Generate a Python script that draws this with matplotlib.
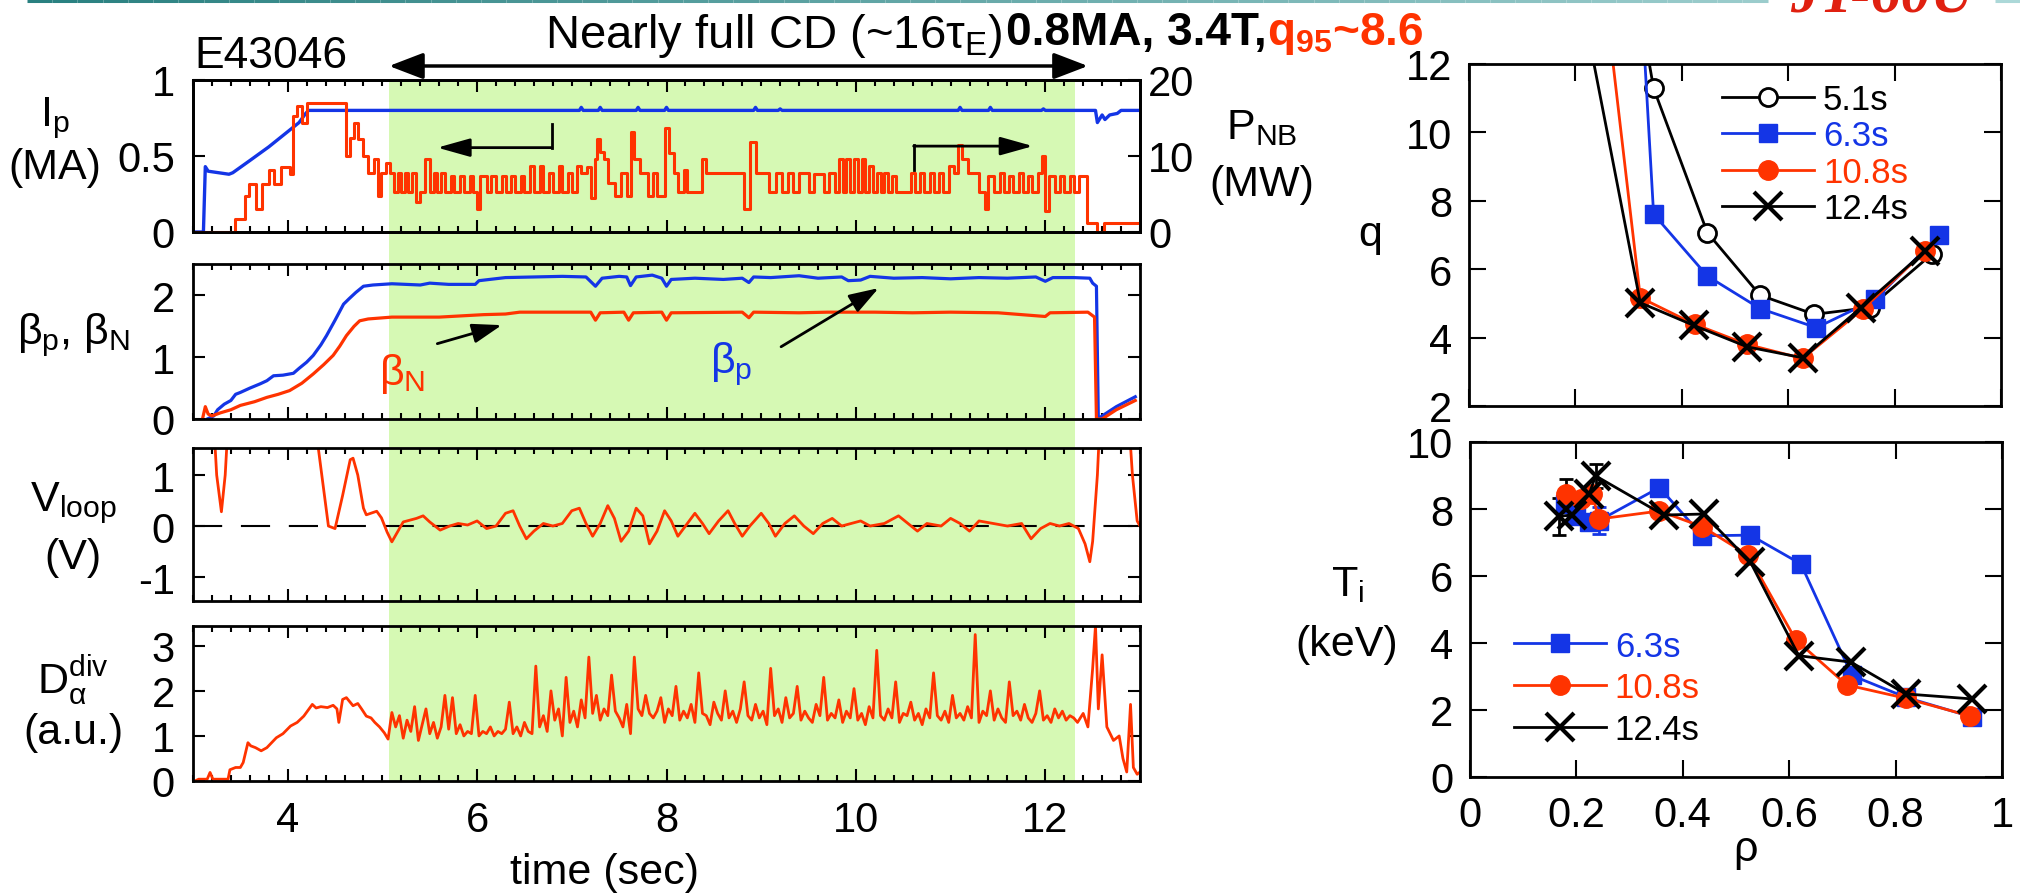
import numpy as np
import matplotlib
matplotlib.use("Agg")
import matplotlib.pyplot as plt
import matplotlib.transforms as mtrans
from matplotlib.patches import Rectangle
from matplotlib.collections import LineCollection
from matplotlib.ticker import MultipleLocator, FuncFormatter

plt.rcParams['font.family'] = ['Liberation Sans', 'DejaVu Sans']
plt.rcParams['mathtext.fontset'] = 'custom'
plt.rcParams['mathtext.rm'] = 'Liberation Sans'
plt.rcParams['mathtext.it'] = 'Liberation Sans'
plt.rcParams['mathtext.bf'] = 'Liberation Sans:bold'
plt.rcParams['mathtext.sf'] = 'Liberation Sans'
plt.rcParams['axes.linewidth'] = 2.0

BLUE = '#1435e6'
RED = '#ff3300'
GREEN = '#d6f9b4'

# ---------------- time traces (shot E43046) ----------------
ip_t = [3.00, 3.11, 3.13, 3.16, 3.38, 3.42, 3.60, 3.80, 4.00, 4.12, 4.19, 4.22, 7.08, 7.10, 7.12,
        7.28, 7.30, 7.32, 7.68, 7.70, 7.72, 7.98, 8.00, 8.02, 8.92, 8.94, 8.96, 9.18, 9.20, 9.22,
        11.08, 11.10, 11.12, 11.40, 11.42, 11.44, 11.96, 11.98, 12.00, 12.53, 12.55, 12.60, 12.63,
        12.68, 12.76, 12.80, 13.00]
ip_v = [0.0, 0.0, 0.43, 0.40, 0.38, 0.39, 0.47, 0.56, 0.66, 0.72, 0.78, 0.80, 0.80, 0.82, 0.80,
        0.80, 0.82, 0.80, 0.80, 0.82, 0.80, 0.80, 0.82, 0.80, 0.80, 0.82, 0.80, 0.80, 0.81, 0.80,
        0.80, 0.82, 0.80, 0.80, 0.82, 0.80, 0.80, 0.81, 0.80, 0.80, 0.72, 0.77, 0.74,
        0.77, 0.78, 0.80, 0.80]

pnb_t = [3.00, 3.44, 3.55, 3.59, 3.67, 3.73, 3.80, 3.86, 3.93, 4.02, 4.06, 4.10, 4.15, 4.20, 4.62,
         4.66, 4.70, 4.74, 4.80, 4.85, 4.91, 4.95, 4.98, 5.04, 5.08, 5.12, 5.16, 5.20, 5.24, 5.27,
         5.31, 5.36, 5.40, 5.45, 5.50, 5.55, 5.58, 5.62, 5.66, 5.72, 5.76, 5.82, 5.86, 5.92, 5.96,
         6.00, 6.03, 6.10, 6.15, 6.20, 6.26, 6.30, 6.36, 6.40, 6.46, 6.50, 6.56, 6.60, 6.66, 6.70,
         6.76, 6.80, 6.86, 6.90, 6.96, 7.00, 7.06, 7.10, 7.16, 7.20, 7.24, 7.27, 7.30, 7.34, 7.38,
         7.46, 7.52, 7.58, 7.62, 7.66, 7.72, 7.80, 7.86, 7.90, 7.98, 8.03, 8.08, 8.12, 8.18, 8.22,
         8.38, 8.42, 8.82, 8.88, 8.94, 9.08, 9.16, 9.22, 9.28, 9.34, 9.40, 9.50, 9.56, 9.66, 9.72,
         9.78, 9.82, 9.86, 9.90, 9.94, 9.98, 10.02, 10.06, 10.10, 10.14, 10.18, 10.22, 10.26, 10.30,
         10.34, 10.38, 10.42, 10.58, 10.62, 10.68, 10.72, 10.78, 10.82, 10.88, 10.92, 10.98, 11.04,
         11.08, 11.12, 11.18, 11.30, 11.36, 11.40, 11.46, 11.52, 11.56, 11.62, 11.66, 11.72, 11.76,
         11.82, 11.86, 11.92, 11.96, 12.00, 12.04, 12.10, 12.16, 12.20, 12.26, 12.30, 12.36, 12.44,
         12.55, 12.62, 13.00]
pnb_v = [0.0, 1.7, 4.7, 6.3, 3.0, 6.3, 8.2, 6.3, 8.5, 7.6, 15.3, 16.6, 14.4, 17.0, 10.0,
         12.4, 14.4, 12.2, 10.0, 7.8, 9.6, 4.7, 7.8, 9.1, 7.8, 5.2, 7.8, 5.2, 7.8, 5.2,
         7.8, 4.0, 5.2, 9.6, 5.2, 7.8, 5.2, 7.8, 5.2, 7.4, 5.2, 7.4, 5.2, 7.4, 5.2,
         3.0, 7.4, 5.2, 7.4, 5.2, 7.4, 5.2, 7.4, 5.2, 7.4, 5.2, 8.7, 5.2, 8.7, 5.2,
         7.8, 5.2, 8.7, 5.2, 7.8, 5.2, 8.7, 7.8, 8.5, 4.5, 9.6, 12.2, 10.5, 9.6, 6.5,
         4.7, 7.8, 4.7, 13.1, 9.6, 7.8, 4.7, 7.8, 4.7, 13.7, 10.4, 7.8, 5.2, 8.2, 5.2,
         9.6, 7.8, 3.0, 11.8, 7.8, 5.2, 7.8, 5.2, 7.8, 5.2, 7.8, 5.2, 7.6, 5.2, 7.8,
         5.2, 9.6, 5.2, 9.6, 5.2, 9.6, 5.2, 9.6, 5.2, 8.7, 5.2, 7.8, 5.2, 7.8,
         5.2, 7.4, 5.2, 7.8, 5.2, 7.8, 5.2, 7.8, 5.2, 7.8, 5.2, 8.7, 7.8,
         11.4, 9.6, 7.8, 5.2, 3.0, 7.4, 5.2, 7.8, 5.2, 7.4, 5.2, 7.8, 5.2,
         7.4, 5.2, 7.8, 10.0, 2.8, 7.4, 5.2, 7.4, 5.2, 7.4, 5.2, 7.4, 1.2,
         0.0, 1.2, 1.2]

betap_t = [3.15, 3.22, 3.26, 3.33, 3.40, 3.45, 3.50, 3.60, 3.71, 3.78, 3.85, 3.95, 4.06, 4.12, 4.20,
           4.27, 4.35, 4.41, 4.50, 4.59, 4.65, 4.72, 4.80, 4.90, 5.10, 5.40, 5.50, 5.70, 5.98, 6.02,
           6.30, 6.60, 6.90, 7.15, 7.25, 7.32, 7.50, 7.58, 7.62, 7.68, 7.85, 7.95, 8.00, 8.05, 8.30,
           8.60, 8.80, 8.87, 8.92, 9.10, 9.40, 9.60, 9.85, 9.92, 10.05, 10.15, 10.40, 10.70, 11.00,
           11.30, 11.60, 11.90, 12.00, 12.08, 12.30, 12.47, 12.50, 12.54, 12.56, 12.60, 12.75, 12.95]
betap_v = [0.0, 0.05, 0.15, 0.24, 0.30, 0.40, 0.43, 0.50, 0.57, 0.62, 0.70, 0.71, 0.74, 0.82, 0.92,
           1.03, 1.20, 1.35, 1.60, 1.86, 1.95, 2.05, 2.15, 2.17, 2.19, 2.17, 2.20, 2.18, 2.18, 2.24,
           2.29, 2.30, 2.31, 2.30, 2.15, 2.28, 2.31, 2.30, 2.16, 2.30, 2.33, 2.28, 2.15, 2.26, 2.28,
           2.26, 2.28, 2.21, 2.30, 2.29, 2.32, 2.28, 2.30, 2.24, 2.25, 2.31, 2.28, 2.29, 2.27,
           2.29, 2.28, 2.30, 2.23, 2.29, 2.29, 2.28, 2.20, 2.15, 0.0, 0.05, 0.20, 0.36]

betan_t = [3.10, 3.13, 3.16, 3.20, 3.29, 3.40, 3.50, 3.65, 3.78, 3.90, 4.02, 4.15, 4.27, 4.38, 4.48,
           4.55, 4.62, 4.70, 4.76, 4.85, 5.10, 5.60, 6.07, 6.30, 6.45, 7.20, 7.25, 7.30, 7.55, 7.60,
           7.65, 7.95, 8.00, 8.05, 8.80, 8.87, 8.92, 9.40, 9.70, 10.20, 10.60, 11.00, 11.50, 12.00,
           12.05, 12.45, 12.52, 12.54, 12.60, 12.75, 12.95]
betan_v = [0.0, 0.20, 0.08, 0.05, 0.10, 0.15, 0.22, 0.28, 0.35, 0.40, 0.46, 0.58, 0.73, 0.88, 1.03,
           1.18, 1.35, 1.50, 1.59, 1.62, 1.65, 1.65, 1.69, 1.70, 1.73, 1.73, 1.60, 1.72, 1.73, 1.60,
           1.72, 1.73, 1.60, 1.72, 1.73, 1.64, 1.73, 1.72, 1.73, 1.73, 1.72, 1.73, 1.72, 1.66,
           1.72, 1.73, 1.65, 0.0, 0.0, 0.15, 0.30]

vloop_t = [3.00, 3.02, 3.22, 3.25, 3.30, 3.34, 3.37, 3.60, 4.20, 4.29, 4.43, 4.50, 4.58, 4.66, 4.69,
           4.74, 4.80, 4.83, 4.94, 4.99, 5.05, 5.10, 5.22, 5.36, 5.43, 5.50, 5.61, 5.71, 5.80, 5.90,
           6.00, 6.10, 6.20, 6.30, 6.38, 6.45, 6.52, 6.60, 6.70, 6.80, 6.90, 7.00, 7.08, 7.15, 7.22,
           7.30, 7.38, 7.45, 7.52, 7.60, 7.68, 7.75, 7.82, 7.90, 7.98, 8.05, 8.12, 8.20, 8.30, 8.38,
           8.45, 8.55, 8.65, 8.72, 8.80, 8.88, 9.00, 9.08, 9.15, 9.25, 9.35, 9.45, 9.55, 9.65, 9.75,
           9.85, 9.95, 10.05, 10.15, 10.30, 10.45, 10.55, 10.65, 10.75, 10.90, 11.00, 11.10, 11.20,
           11.30, 11.45, 11.60, 11.75, 11.85, 11.95, 12.05, 12.15, 12.25, 12.35, 12.42, 12.47, 12.50,
           12.55, 12.60, 12.85, 12.92, 12.97, 13.00]
vloop_v = [3.0, 3.0, 2.0, 1.0, 0.28, 1.0, 2.0, 3.0, 3.0, 2.0, 0.0, -0.05, 0.6, 1.30, 1.33,
           1.0, 0.35, 0.22, 0.29, 0.16, -0.12, -0.31, 0.08, 0.15, 0.20, 0.08, -0.08, 0.0, 0.05, 0.02,
           0.10, -0.05, 0.0, 0.25, 0.30, 0.0, -0.25, -0.10, 0.05, 0.0, 0.05, 0.30, 0.35, 0.05, -0.20,
           0.05, 0.40, 0.15, -0.30, -0.10, 0.35, 0.20, -0.35, -0.10, 0.30, 0.10, -0.20, 0.0, 0.25, 0.05,
           -0.15, 0.10, 0.30, 0.05, -0.20, 0.0, 0.25, 0.05, -0.20, 0.05, 0.20, 0.0, -0.15, 0.05, 0.15,
           0.0, 0.05, 0.10, 0.0, 0.05, 0.20, 0.05, -0.10, 0.05, 0.0, 0.15, 0.05, -0.10,
           0.10, 0.05, 0.0, 0.05, -0.25, -0.05, 0.05, 0.0, 0.05, -0.05, -0.35, -0.70, -0.30,
           1.0, 3.0, 3.0, 1.0, 0.1, 0.0]

da_t_start = [3.02, 3.06, 3.15, 3.18, 3.21, 3.30, 3.37, 3.39, 3.45, 3.50, 3.53, 3.58, 3.61, 3.66,
              3.72, 3.78, 3.88, 3.95, 4.03, 4.10, 4.17, 4.26, 4.30, 4.35, 4.42, 4.48, 4.52, 4.54,
              4.58, 4.62, 4.69, 4.74, 4.78, 4.83, 4.88, 4.92, 4.97, 5.02, 5.06]
da_v_start = [0.00, 0.04, 0.04, 0.19, 0.04, 0.04, 0.04, 0.25, 0.30, 0.30, 0.41, 0.85, 0.78, 0.74,
              0.67, 0.74, 0.96, 1.05, 1.22, 1.30, 1.44, 1.70, 1.62, 1.65, 1.63, 1.68, 1.60, 1.30,
              1.81, 1.85, 1.67, 1.72, 1.60, 1.44, 1.40, 1.30, 1.20, 1.07, 0.93]
# flat-top samples, every 40 ms from 5.10 s to 12.30 s
da_v_flat = [1.52, 1.20, 1.45, 0.95, 1.35, 1.10, 1.65, 0.90, 1.25, 1.60,
             1.05, 1.30, 0.95, 1.20, 1.90, 1.15, 1.85, 1.05, 1.25, 1.00,
             1.10, 1.05, 1.90, 1.00, 1.10, 1.05, 1.20, 1.00, 1.10, 1.05,
             1.15, 1.75, 1.05, 1.20, 1.00, 1.30, 1.10, 1.05, 2.55, 1.20,
             1.45, 1.10, 2.00, 1.35, 1.60, 1.00, 2.30, 1.30, 1.55, 1.20,
             1.80, 1.40, 2.75, 1.50, 1.90, 1.35, 1.60, 1.45, 2.35, 1.55,
             1.40, 1.20, 1.70, 1.05, 2.75, 1.60, 1.45, 1.90, 1.50, 1.40,
             1.55, 1.85, 1.30, 1.60, 1.45, 2.10, 1.35, 1.55, 1.40, 1.70,
             1.30, 2.40, 1.50, 1.45, 1.25, 1.75, 1.50, 1.35, 2.00, 1.40,
             1.55, 1.30, 1.60, 2.20, 1.45, 1.35, 1.70, 1.40, 1.55, 1.25,
             2.50, 1.45, 1.60, 1.30, 1.85, 1.40, 1.50, 2.10, 1.35, 1.55,
             1.40, 1.30, 1.70, 1.45, 2.30, 1.35, 1.50, 1.40, 1.80, 1.30,
             1.55, 1.40, 2.05, 1.35, 1.50, 1.25, 1.65, 1.40, 2.90, 1.45,
             1.35, 1.60, 1.40, 2.20, 1.30, 1.50, 1.45, 1.75, 1.35, 1.50,
             1.25, 1.60, 1.40, 2.40, 1.45, 1.35, 1.55, 1.30, 1.90, 1.40,
             1.50, 1.35, 1.65, 1.40, 3.25, 1.30, 1.55, 1.45, 2.00, 1.35,
             1.60, 1.40, 1.30, 2.20, 1.45, 1.55, 1.35, 1.70, 1.40, 1.30,
             1.50, 2.00, 1.35, 1.45, 1.30, 1.60, 1.40, 1.55, 1.35, 1.45,
             1.40]
da_t_end = [12.34, 12.40, 12.45, 12.50, 12.53, 12.56, 12.60, 12.65, 12.72, 12.78, 12.82, 12.86,
            12.90, 12.93, 12.97, 13.00]
da_v_end = [1.30, 1.50, 1.20, 2.50, 3.45, 1.60, 2.80, 1.20, 0.90, 1.00, 0.50, 0.20,
            1.70, 0.30, 0.15, 0.20]

cd_start, cd_end = 5.07, 12.31

# ---------------- q profiles ----------------
q_times = ['5.1s', '6.3s', '10.8s', '12.4s']
q51_rho = [0.25, 0.347, 0.448, 0.547, 0.649, 0.753, 0.870]
q51 = [20.0, 11.29, 7.07, 5.24, 4.68, 4.88, 6.44]
q63_rho = [0.25, 0.347, 0.448, 0.547, 0.653, 0.764, 0.884]
q63 = [34.0, 7.61, 5.80, 4.85, 4.29, 5.12, 7.00]
q108_rho = [0.22, 0.322, 0.424, 0.523, 0.627, 0.740, 0.858]
q108 = [18.8, 5.17, 4.39, 3.80, 3.39, 4.83, 6.54]
q124_rho = [0.20, 0.322, 0.422, 0.523, 0.627, 0.737, 0.858]
q124 = [14.8, 5.02, 4.36, 3.73, 3.41, 4.88, 6.54]

# ---------------- Ti profiles ----------------
nan = np.nan
ti63_rho = [0.179, 0.200, 0.224, 0.242, 0.356, 0.437, 0.527, 0.622, 0.718, 0.819, 0.944]
ti63 = [8.15, 7.80, 7.60, 7.65, 8.64, 7.20, 7.22, 6.36, 3.03, 2.38, 1.79]
ti63_err = [nan, nan, nan, 0.40, nan, nan, nan, nan, nan, nan, nan]
ti108_rho = [0.181, 0.208, 0.230, 0.242, 0.356, 0.437, 0.523, 0.612, 0.708, 0.819, 0.940]
ti108 = [8.44, 8.29, 8.44, 7.70, 7.94, 7.47, 6.62, 4.10, 2.75, 2.35, 1.82]
ti108_err = [0.45, nan, nan, nan, nan, nan, nan, nan, nan, nan, nan]
ti124_rho = [0.167, 0.191, 0.224, 0.236, 0.364, 0.439, 0.527, 0.618, 0.716, 0.819, 0.944]
ti124 = [7.78, 7.82, 8.44, 8.99, 7.82, 7.85, 6.42, 3.62, 3.43, 2.48, 2.33]
ti124_err = [0.55, nan, nan, 0.35, nan, nan, nan, nan, nan, nan, nan]

# ================= figure =================
W, H = 2020, 895
fig = plt.figure(figsize=(W / 100, H / 100), dpi=100)


def box(x0, y0, x1, y1):
    return [x0 / W, 1 - y1 / H, (x1 - x0) / W, (y1 - y0) / H]


def fxy(x, y):
    return x / W, 1 - y / H


TICK_FS = 30
LAB_FS = 31
fmt = FuncFormatter(lambda v, p: f'{v:g}')

TL = 193
TR = 1140
ax1 = fig.add_axes(box(TL, 81, TR, 233))
ax2 = fig.add_axes(box(TL, 265, TR, 420), sharex=ax1)
ax3 = fig.add_axes(box(TL, 449, TR, 602), sharex=ax1)
ax4 = fig.add_axes(box(TL, 627, TR, 782), sharex=ax1)
time_axes = [ax1, ax2, ax3, ax4]

for ax in time_axes:
    ax.set_facecolor('none')
    ax.set_xlim(3, 13)
    ax.xaxis.set_major_locator(MultipleLocator(2))
    ax.xaxis.set_minor_locator(MultipleLocator(0.2))
    ax.xaxis.set_major_formatter(fmt)
    ax.yaxis.set_major_formatter(fmt)
    ax.tick_params(which='both', direction='in', top=True, right=True, labelsize=TICK_FS, width=1.5)
    ax.tick_params(which='major', length=8.6, pad=13)
    ax.tick_params(which='minor', length=4.3)
    for s in ax.spines.values():
        s.set_linewidth(2.0)
for ax in [ax1, ax2, ax3]:
    ax.tick_params(labelbottom=False)
ax4.tick_params(axis='x', pad=14)

# shaded current-drive window (spans all four time panels)
trans = mtrans.blended_transform_factory(ax4.transData, fig.transFigure)
rect = Rectangle((cd_start, 1 - 782 / H), cd_end - cd_start, (782 - 81) / H,
                 transform=trans, facecolor=GREEN, edgecolor='none', zorder=-10)
fig.add_artist(rect)

# panel 1: Ip and P_NB
ax1.plot(ip_t, ip_v, color=BLUE, lw=2.4, zorder=3)
ax1.set_ylim(0, 1)
ax1.set_yticks([0, 0.5, 1])
ax1r = ax1.twinx()
ax1r.set_position(box(TL, 81, TR, 233))
ax1r.step(pnb_t, pnb_v, where='post', color=RED, lw=2.2)
ax1r.set_ylim(0, 20)
ax1r.set_yticks([0, 10, 20])
ax1r.yaxis.set_major_formatter(fmt)
ax1r.tick_params(axis='y', direction='in', length=8.6, width=1.5, labelsize=TICK_FS, pad=6)
for s in ax1r.spines.values():
    s.set_linewidth(2.0)
ax1.tick_params(which='both', right=False)

ax1.plot([6.79, 6.79], [0.71, 0.555], color='k', lw=2)
ax1.annotate('', xy=(5.58, 0.555), xytext=(6.79, 0.555),
             arrowprops=dict(arrowstyle='-|>,head_length=1.0,head_width=0.28', mutation_scale=20,
                             lw=2, color='k', shrinkA=0, shrinkB=0))
ax1r.plot([10.61, 10.61], [8.2, 11.5], color='k', lw=2)
ax1r.annotate('', xy=(11.87, 11.3), xytext=(10.61, 11.3),
              arrowprops=dict(arrowstyle='-|>,head_length=1.0,head_width=0.28', mutation_scale=20,
                              lw=2, color='k', shrinkA=0, shrinkB=0))

# panel 2: beta_p, beta_N
ax2.plot(betap_t, betap_v, color=BLUE, lw=2.3)
ax2.plot(betan_t, betan_v, color=RED, lw=2.3)
ax2.set_ylim(0, 2.51)
ax2.set_yticks([0, 1, 2])
ax2.text(4.96, 0.74, r'$\beta_{\rm N}$', color=RED, fontsize=LAB_FS, ha='left', va='center')
ax2.text(8.46, 0.90, r'$\beta_{\rm p}$', color=BLUE, fontsize=LAB_FS, ha='left', va='center')
ax2.annotate('', xy=(6.26, 1.52), xytext=(5.58, 1.22),
             arrowprops=dict(arrowstyle='-|>,head_length=0.9,head_width=0.3', mutation_scale=20,
                             lw=2, color='k', shrinkA=0, shrinkB=0))
ax2.annotate('', xy=(10.24, 2.12), xytext=(9.21, 1.17),
             arrowprops=dict(arrowstyle='-|>,head_length=0.9,head_width=0.3', mutation_scale=20,
                             lw=2, color='k', shrinkA=0, shrinkB=0))

# panel 3: loop voltage
ax3.axhline(0, color='k', lw=1.5, dashes=(14, 9))
ax3.plot(vloop_t, vloop_v, color=RED, lw=2.0)
ax3.set_ylim(-1.47, 1.53)
ax3.set_yticks([-1, 0, 1])

# panel 4: D-alpha
da_t = np.concatenate([da_t_start, np.linspace(5.10, 12.30, len(da_v_flat)), da_t_end])
da_v = np.concatenate([da_v_start, da_v_flat, da_v_end])
ax4.plot(da_t, da_v, color=RED, lw=2.0)
ax4.set_ylim(0, 3.44)
ax4.set_yticks([0, 1, 2, 3])

# ---------------- right panels ----------------
axq = fig.add_axes(box(1469, 65, 2001, 407))
axt = fig.add_axes(box(1470, 443, 2002, 778))
for ax in [axq, axt]:
    ax.set_xlim(0, 1)
    ax.set_xticks([0, 0.2, 0.4, 0.6, 0.8, 1.0])
    ax.xaxis.set_major_formatter(fmt)
    ax.yaxis.set_major_formatter(fmt)
    ax.tick_params(direction='in', top=True, right=True, length=12, width=1.5,
                   labelsize=TICK_FS, pad=12)
    for s in ax.spines.values():
        s.set_linewidth(2.0)
axq.tick_params(labelbottom=False)
axq.set_ylim(2, 12)
axq.set_yticks([2, 4, 6, 8, 10, 12])
axt.set_ylim(0, 10)
axt.set_yticks([0, 2, 4, 6, 8, 10])
axt.tick_params(axis='x', pad=13)

axq.plot(q51_rho, q51, '-o', color='k', mfc='white', mec='k', ms=13, mew=2, lw=2, label=q_times[0])
axq.plot(q63_rho, q63, '-s', color=BLUE, ms=13, lw=2, label=q_times[1])
axq.plot(q108_rho, q108, '-o', color=RED, ms=14, lw=2, label=q_times[2])
axq.plot(q124_rho, q124, '-x', color='k', ms=20, mew=3, lw=2, label=q_times[3])
legq = axq.legend(loc='upper left', bbox_to_anchor=(0.476, 0.945), frameon=False, fontsize=25,
                  handlelength=2.65, handletextpad=0.25, labelspacing=0.1, borderpad=0,
                  borderaxespad=0, numpoints=1)
for txt, c in zip(legq.get_texts(), ['k', BLUE, RED, 'k']):
    txt.set_color(c)

axt.errorbar(ti63_rho, ti63, yerr=ti63_err, fmt='none', ecolor=BLUE, elinewidth=2, capsize=5, capthick=2)
axt.errorbar(ti108_rho, ti108, yerr=ti108_err, fmt='none', ecolor='k', elinewidth=2, capsize=5, capthick=2)
axt.errorbar(ti124_rho, ti124, yerr=ti124_err, fmt='none', ecolor='k', elinewidth=2, capsize=5, capthick=2)
axt.plot(ti63_rho, ti63, '-s', color=BLUE, ms=13, lw=2, label=q_times[1])
axt.plot(ti108_rho, ti108, '-o', color=RED, ms=14, lw=2, label=q_times[2])
axt.plot(ti124_rho, ti124, '-x', color='k', ms=20, mew=3, lw=2, label=q_times[3])
legt = axt.legend(loc='upper left', bbox_to_anchor=(0.083, 0.44), frameon=False, fontsize=25,
                  handlelength=2.65, handletextpad=0.25, labelspacing=0.25, borderpad=0,
                  borderaxespad=0, numpoints=1)
for txt, c in zip(legt.get_texts(), [BLUE, RED, 'k']):
    txt.set_color(c)

# ---------------- labels ----------------
def ftext(x, y, s, **kw):
    kw.setdefault('fontsize', LAB_FS)
    kw.setdefault('ha', 'center')
    kw.setdefault('va', 'center')
    return fig.text(*fxy(x, y), s, **kw)


ftext(55, 118, r'I$_{\rm p}$')
ftext(55, 168, '(MA)')
ftext(1262, 128, r'P$_{\rm NB}$')
ftext(1262, 185, '(MW)')
ftext(73, 335, r'$\beta_{\rm p}$, $\beta_{\rm N}$')
ftext(73, 503, r'V$_{\rm loop}$')
ftext(73, 558, '(V)')
ftext(73, 680, r'D$_{\alpha}^{\rm div}$')
ftext(73, 733, '(a.u.)')
ftext(605, 873, 'time (sec)')
ftext(1370, 235, 'q')
ftext(1348, 585, r'T$_{\rm i}$')
ftext(1347, 645, '(keV)')
ftext(1745, 852, r'$\rho$')

fig.text(*fxy(194, 68), 'E43046', fontsize=32, va='baseline', ha='left')

# header: three pieces chained left to right
renderer = fig.canvas.get_renderer()
h1 = fig.text(*fxy(545, 48), r'Nearly full CD (~16$\tau_{\rm E}$)', fontsize=34,
              va='baseline', ha='left')
x_next = h1.get_window_extent(renderer).x1 / fig.bbox.width
h2 = fig.text(x_next + 4 / W, 1 - 45 / H, '0.8MA, 3.4T,', fontsize=33, fontweight='bold',
              va='baseline', ha='left')
x_next = h2.get_window_extent(renderer).x1 / fig.bbox.width
fig.text(x_next, 1 - 45 / H, r'q$_{\mathbf{95}}$~8.6', fontsize=33, fontweight='bold', color=RED,
         va='baseline', ha='left')

# header double arrow over the current-drive window
htrans = mtrans.blended_transform_factory(ax1.transData, fig.transFigure)
ax1.annotate('', xy=(12.45, 1 - 67 / H), xytext=(cd_start, 1 - 67 / H),
             xycoords=htrans, textcoords=htrans, annotation_clip=False,
             arrowprops=dict(arrowstyle='<|-|>,head_length=0.6,head_width=0.23', mutation_scale=35,
                             lw=2.5, color='k', shrinkA=0, shrinkB=0))

# JT-60U logo (clipped at top) and teal rule
fig.text(*fxy(1790, 12), 'JT-60U', fontsize=43, fontstyle='italic', fontweight='bold',
         family=['Liberation Serif', 'DejaVu Serif'], color='#e02010', va='baseline', ha='left')
xs = np.linspace(27, 2020, 80)
segs, cols = [], []
c0 = np.array([0.16, 0.50, 0.50])
c1 = np.array([0.68, 0.85, 0.85])
for a, b in zip(xs[:-1], xs[1:]):
    if b > 1785 and a < 1985:
        continue
    f = (a - 27) / (2020 - 27)
    segs.append([fxy(a, 1.5), fxy(b, 1.5)])
    cols.append(tuple(c0 + (c1 - c0) * f))
lc = LineCollection(segs, colors=cols, linewidths=2.2, transform=fig.transFigure)
fig.add_artist(lc)

fig.savefig('out.png', dpi=100)
